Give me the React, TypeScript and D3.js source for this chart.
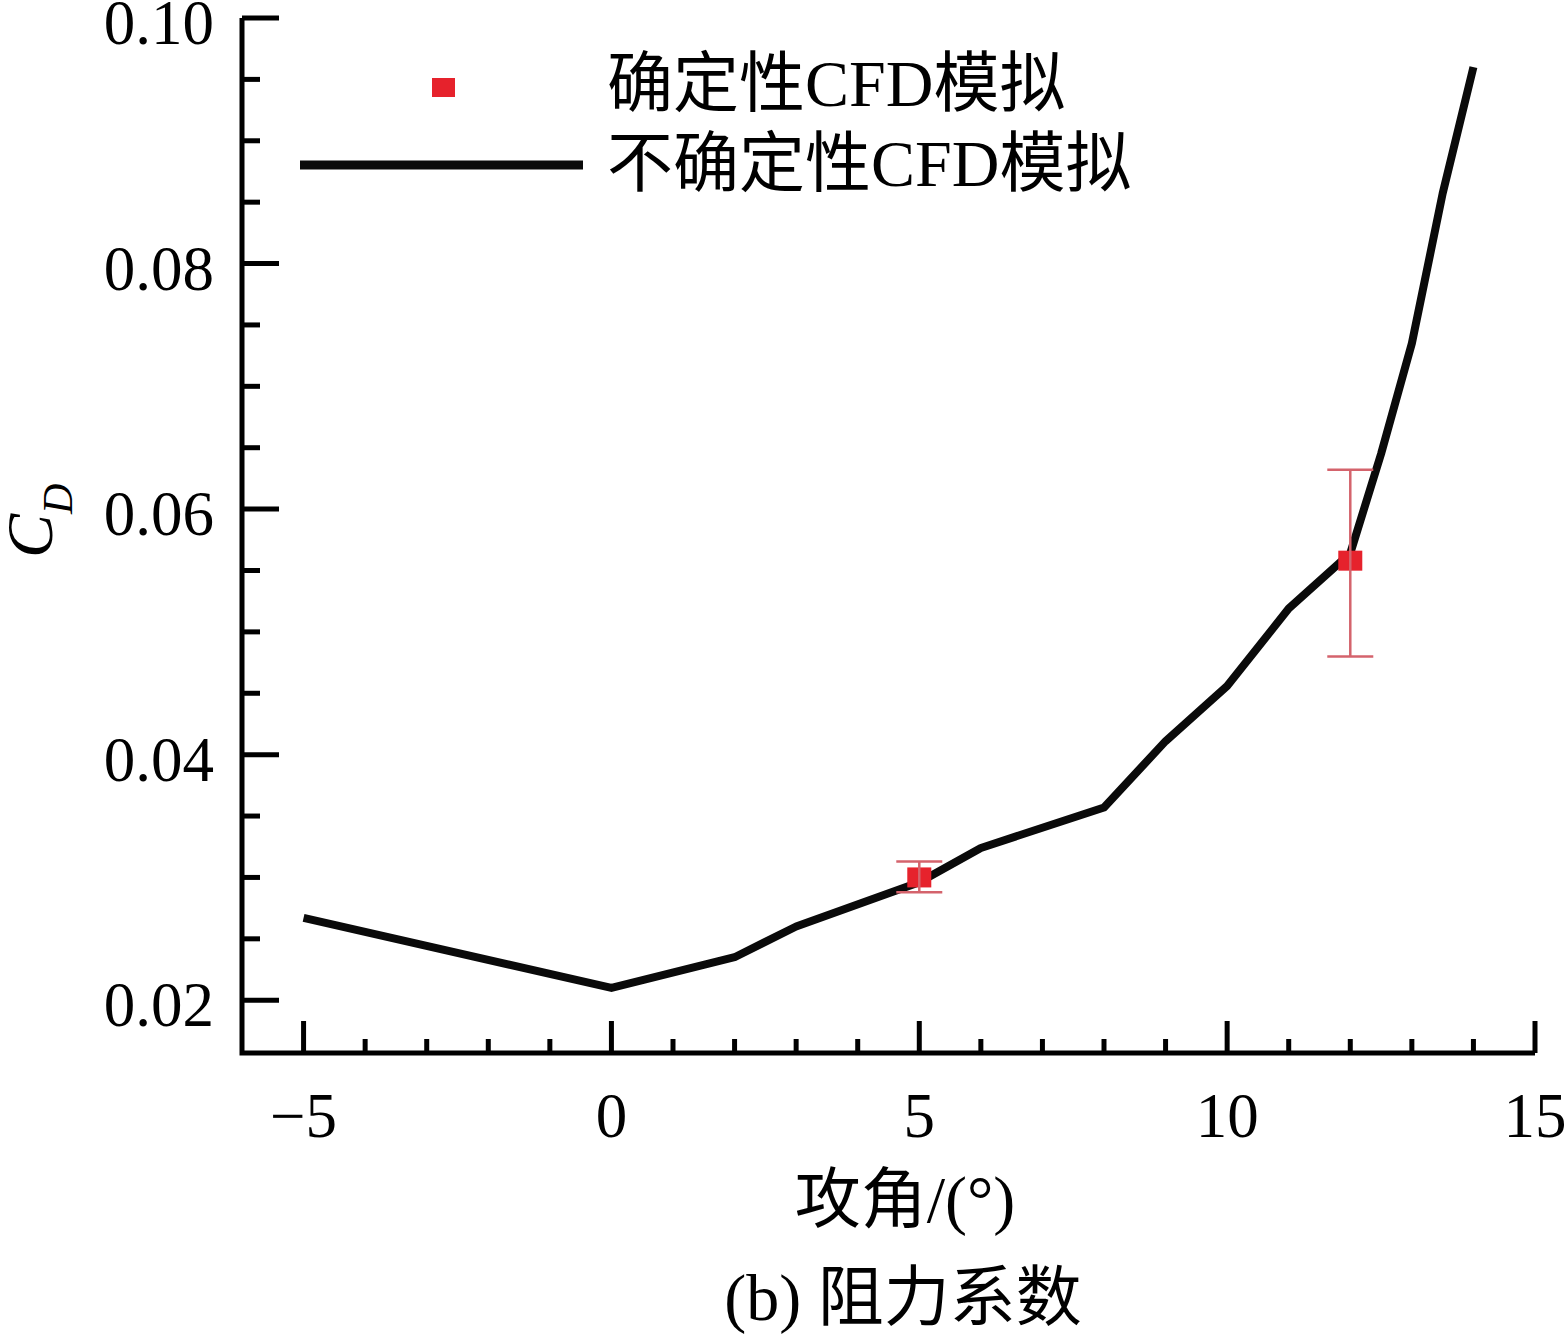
import React from "react";
import * as d3 from "d3";

// ---- data ----
const aoa = [-5, 0, 2, 3, 5, 6, 8, 9, 10, 11, 12, 12.5, 13, 13.5, 14];
const cdUncertain = [0.0267, 0.021, 0.0235, 0.026, 0.0296, 0.0324, 0.0357, 0.0411, 0.0456, 0.0519, 0.0564, 0.0645, 0.0735, 0.0857, 0.096];

const detAoa = [5, 12];
const detCd = [0.03, 0.0558];
const detLow = [0.0288, 0.048];
const detHigh = [0.0313, 0.0632];

const xMajorTicks = [-5, 0, 5, 10, 15];
const xTickLabels = ["\u22125", "0", "5", "10", "15"];
const yMajorTicks = [0.02, 0.04, 0.06, 0.08, 0.1];
const yTickLabels = ["0.02", "0.04", "0.06", "0.08", "0.10"];

const legendLabels = ["确定性CFD模拟", "不确定性CFD模拟"];
const xTitle = "攻角/(°)";
const caption = "(b) 阻力系数";

const W = 1566;
const H = 1335;
const FONT = "'Liberation Serif', 'Times New Roman', 'Noto Sans CJK SC', serif";

export default function App() {
  const x = d3.scaleLinear().domain([-6, 15]).range([242, 1535]);
  const y = d3.scaleLinear().domain([0.0157, 0.1]).range([1053, 18]);

  const xMinor = d3.range(-5, 16, 1).filter((v) => !xMajorTicks.includes(v));
  const yMinor = d3
    .range(0.02, 0.1, 0.005)
    .map((v) => +v.toFixed(3))
    .filter((v) => !yMajorTicks.some((m) => Math.abs(m - v) < 1e-9));

  const line = d3
    .line<number>()
    .x((_, i) => x(aoa[i]))
    .y((d) => y(d));

  const x0 = x.range()[0];
  const y0 = y.range()[0];
  const errColor = "#d4636c";
  const markColor = "#e6222c";

  return (
    <svg
      width={W}
      height={H}
      style={{ position: "absolute", left: 0, top: 0, background: "#fff" }}
      fontFamily={FONT}
    >
      <rect x={0} y={0} width={W} height={H} fill="#fff" />
      {/* axes */}
      <path
        d={`M${x0},${y(0.1)} V${y0} H${x(15)}`}
        fill="none"
        stroke="#000"
        strokeWidth={5}
        strokeLinejoin="miter"
      />
      {yMajorTicks.map((v) => (
        <line key={"ym" + v} x1={x0} x2={x0 + 37} y1={y(v)} y2={y(v)} stroke="#000" strokeWidth={5} />
      ))}
      {yMinor.map((v) => (
        <line key={"yn" + v} x1={x0} x2={x0 + 18} y1={y(v)} y2={y(v)} stroke="#000" strokeWidth={5} />
      ))}
      {xMajorTicks.map((v) => (
        <line key={"xm" + v} x1={x(v)} x2={x(v)} y1={y0} y2={y0 - 32} stroke="#000" strokeWidth={5} />
      ))}
      {xMinor.map((v) => (
        <line key={"xn" + v} x1={x(v)} x2={x(v)} y1={y0} y2={y0 - 14} stroke="#000" strokeWidth={5} />
      ))}
      {/* tick labels */}
      {yMajorTicks.map((v, i) => (
        <text key={"yl" + v} x={x0 - 28} y={y(v) + 26} textAnchor="end" fontSize={63} fill="#000">
          {yTickLabels[i]}
        </text>
      ))}
      {xMajorTicks.map((v, i) => (
        <text key={"xl" + v} x={x(v)} y={1137} textAnchor="middle" fontSize={63} fill="#000">
          {xTickLabels[i]}
        </text>
      ))}
      {/* axis titles */}
      <text x={905} y={1222} textAnchor="middle" fontSize={66} fill="#000">
        {xTitle}
      </text>
      <text x={903} y={1320} textAnchor="middle" fontSize={66} fill="#000">
        {caption}
      </text>
      <text transform="translate(52,558) rotate(-90)" fontSize={66} fontStyle="italic" fill="#000">
        C
        <tspan fontSize={42} dy={20}>
          D
        </tspan>
      </text>

      {/* uncertain CFD line */}
      <path d={line(cdUncertain) || ""} fill="none" stroke="#0a0a0a" strokeWidth={8} strokeLinejoin="round" />

      {/* deterministic CFD with error bars */}
      {detAoa.map((a, i) => (
        <rect
          key={"det" + a}
          x={x(a) - 12}
          y={y(detCd[i]) - 10}
          width={24}
          height={20}
          fill={markColor}
        />
      ))}
      {detAoa.map((a, i) => (
        <g key={"err" + a} stroke={errColor} strokeWidth={2.5}>
          <line x1={x(a)} x2={x(a)} y1={y(detLow[i])} y2={y(detHigh[i])} />
          <line x1={x(a) - 23} x2={x(a) + 23} y1={y(detLow[i])} y2={y(detLow[i])} />
          <line x1={x(a) - 23} x2={x(a) + 23} y1={y(detHigh[i])} y2={y(detHigh[i])} />
        </g>
      ))}

      {/* legend */}
      <rect x={432} y={78} width={23} height={19} fill={markColor} />
      <text x={607} y={106} fontSize={66} fill="#000">
        {legendLabels[0]}
      </text>
      <line x1={300} x2={583} y1={165} y2={165} stroke="#0a0a0a" strokeWidth={9} />
      <text x={607} y={186} fontSize={66} fill="#000">
        {legendLabels[1]}
      </text>
    </svg>
  );
}
